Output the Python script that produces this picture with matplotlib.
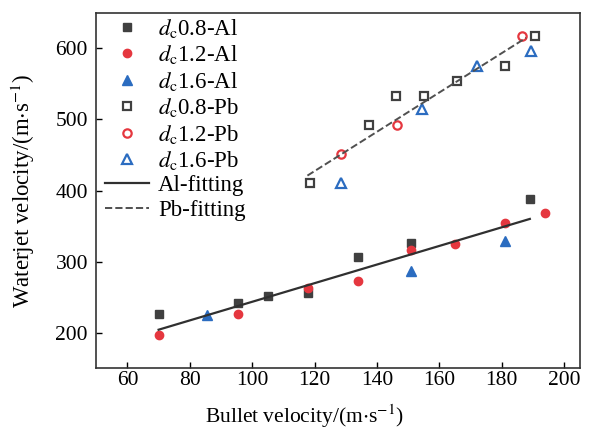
import matplotlib
matplotlib.use('Agg')
import matplotlib.pyplot as plt

plt.rcParams['font.family'] = ['Liberation Serif', 'DejaVu Serif']
plt.rcParams['mathtext.fontset'] = 'stix'

# Al 靶数据
al08_x = [70, 95.5, 105, 118, 134, 151, 189]
al08_y = [226, 242, 251, 255, 307, 326, 388]
al12_x = [70, 95.5, 118, 134, 151, 165, 181, 194]
al12_y = [196, 226, 263, 273, 316, 325, 354, 368]
al16_x = [85.5, 151, 181]
al16_y = [225, 287, 329]

# Pb 靶数据
pb08_x = [118.5, 137.5, 146, 155, 165.5, 181, 190.5]
pb08_y = [410, 492, 533, 533, 554, 575, 617]
pb12_x = [128.5, 146.5, 186.5]
pb12_y = [452, 492, 617]
pb16_x = [128.5, 154.5, 172, 189.5]
pb16_y = [411, 515, 575, 597]

# 拟合线端点
al_fit_x = [70, 189]
al_fit_y = [204, 360]
pb_fit_x = [117.7, 187.8]
pb_fit_y = [421, 615]

c_black = '#404040'
c_red = '#e5373f'
c_blue = '#2b6cc0'

fig = plt.figure(figsize=(5.94, 4.32), dpi=100)
ax = fig.add_axes([0.162, 0.148, 0.814, 0.822])

ms = 6
ax.plot(al08_x, al08_y, 's', color=c_black, ms=ms, ls='none', label=r'$d_{\mathrm{c}}$0.8-Al')
ax.plot(al12_x, al12_y, 'o', color=c_red, ms=ms, ls='none', label=r'$d_{\mathrm{c}}$1.2-Al')
ax.plot(al16_x, al16_y, '^', color=c_blue, ms=ms + 1, ls='none', label=r'$d_{\mathrm{c}}$1.6-Al')
ax.plot(pb08_x, pb08_y, 's', mfc='none', mec=c_black, mew=1.6, ms=ms, ls='none', label=r'$d_{\mathrm{c}}$0.8-Pb')
ax.plot(pb12_x, pb12_y, 'o', mfc='none', mec=c_red, mew=1.6, ms=ms, ls='none', label=r'$d_{\mathrm{c}}$1.2-Pb')
ax.plot(pb16_x, pb16_y, '^', mfc='none', mec=c_blue, mew=1.6, ms=ms + 1, ls='none', label=r'$d_{\mathrm{c}}$1.6-Pb')
ax.plot(al_fit_x, al_fit_y, '-', color='#303030', lw=1.6, label='Al-fitting')
ax.plot(pb_fit_x, pb_fit_y, '--', color='#505050', lw=1.4, label='Pb-fitting')

ax.set_xlim(50, 205)
ax.set_ylim(150, 650)
ax.set_xticks([60, 80, 100, 120, 140, 160, 180, 200])
ax.set_yticks([200, 300, 400, 500, 600])
ax.tick_params(direction='in', labelsize=15.5, length=4, width=1)
ax.tick_params(axis='x', pad=2)
ax.tick_params(axis='y', pad=6)
for s in ax.spines.values():
    s.set_linewidth(1.2)
    s.set_color('#333333')

ax.set_xlabel(r'Bullet velocity/(m$\cdot$s$^{-1}$)', fontsize=15.5)
ax.set_ylabel(r'Waterjet velocity/(m$\cdot$s$^{-1}$)', fontsize=16.5)
ax.xaxis.set_label_coords(0.43, -0.098)
ax.yaxis.set_label_coords(-0.122, 0.5)

ax.legend(loc='upper left', frameon=False, fontsize=16.5, labelspacing=0.15,
          handlelength=1.9, handletextpad=0.4, borderaxespad=0.0,
          bbox_to_anchor=(0.0, 1.015))

fig.savefig('out.png', dpi=100)
